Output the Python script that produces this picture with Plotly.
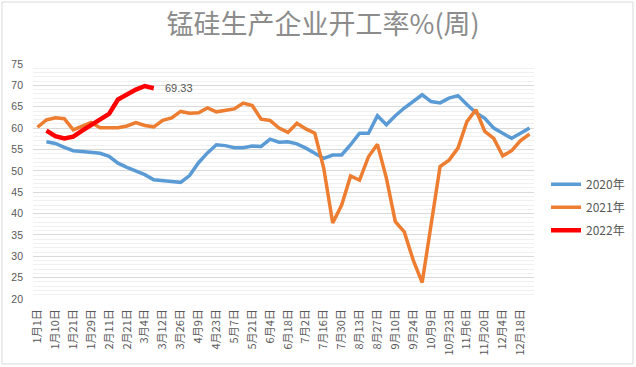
import plotly.graph_objects as go

categories = [
    "1月1日", "1月6日", "1月10日", "1月15日", "1月21日", "1月25日", "1月29日", "2月5日",
    "2月11日", "2月15日", "2月21日", "2月26日", "3月4日", "3月8日", "3月12日", "3月19日",
    "3月26日", "4月2日", "4月9日", "4月16日", "4月23日", "4月30日", "5月7日", "5月14日",
    "5月21日", "5月28日", "6月4日", "6月11日", "6月18日", "6月25日", "7月2日", "7月9日",
    "7月16日", "7月23日", "7月30日", "8月6日", "8月13日", "8月20日", "8月27日", "9月3日",
    "9月10日", "9月17日", "9月24日", "10月1日", "10月9日", "10月16日", "10月23日", "10月30日",
    "11月6日", "11月13日", "11月20日", "11月27日", "12月4日", "12月11日", "12月18日", "12月25日",
]
tick_labels = categories[::2]

rate_2020 = [
    None, 56.8, 56.4, 55.5, 54.7, 54.5, 54.3, 54.1, 53.4, 51.8, 50.8, 49.9, 49.1, 47.9,
    47.6, 47.5, 47.3, 48.9, 51.9, 54.2, 56.1, 55.9, 55.4, 55.4, 55.8, 55.7, 57.4, 56.7,
    56.8, 56.3, 55.3, 54.1, 52.9, 53.7, 53.7, 56.1, 58.8, 58.8, 62.9, 60.8, 62.9, 64.7,
    66.2, 67.8, 66.2, 65.9, 67.0, 67.6, 65.5, 63.6, 62.3, 60.0, 58.8, 57.6, 58.8, 60.0,
]
rate_2021 = [
    60.2, 61.9, 62.4, 62.2, 59.6, 60.4, 61.3, 60.1, 60.1, 60.1, 60.5, 61.3, 60.6, 60.3,
    61.8, 62.4, 63.9, 63.5, 63.6, 64.7, 63.8, 64.1, 64.5, 65.85, 65.3, 62.1, 61.8, 60.0,
    59.0, 61.15, 59.8, 58.8, 50.6, 37.8, 42.0, 48.8, 47.8, 53.3, 56.2, 48.3, 38.1, 35.7,
    29.1, 23.85, 37.3, 51.0, 52.5, 55.3, 61.5, 64.3, 59.2, 57.6, 53.5, 54.7, 57.1, 58.6,
]
rate_2022 = [
    None, 59.4, 58.1, 57.6, 58.0, 59.4, 60.6, 62.0, 63.3, 66.7, 67.9, 69.0, 69.85, 69.33,
] + [None] * 42

series_names = ["2020年", "2021年", "2022年"]
series_colors = ["#5B9BD5", "#ED7D31", "#FF0000"]
series_widths = [3.5, 3.5, 4.5]
title_text = "锰硅生产企业开工率%(周)"

fig = go.Figure()
for name, vals, color, w in zip(series_names, [rate_2020, rate_2021, rate_2022],
                                series_colors, series_widths):
    fig.add_trace(go.Scatter(
        x=categories, y=vals, mode="lines", name=name, legendgroup=name,
        line=dict(color=color, width=w), connectgaps=False, hoverinfo="x+y",
    ))

last_idx = max(i for i, v in enumerate(rate_2022) if v is not None)
fig.add_annotation(
    x=categories[last_idx], y=rate_2022[last_idx], text=f"{rate_2022[last_idx]:.2f}",
    showarrow=False, xanchor="left", yanchor="middle", xshift=9,
    font=dict(size=11, color="#595959", family="Liberation Sans"),
)

# chart area border
fig.add_shape(type="rect", xref="paper", yref="paper",
              x0=-0.0619, x1=1.1976, y0=-0.2766, y1=1.2638,
              line=dict(color="#d9d9d9", width=1), fillcolor="rgba(0,0,0,0)", layer="below")

fig.update_layout(
    width=636, height=367,
    margin=dict(l=33, r=102, t=64, b=68, autoexpand=False),
    paper_bgcolor="white", plot_bgcolor="white",
    title=dict(text=title_text, x=0.508, xanchor="center", y=0.932, yanchor="middle",
               font=dict(size=27, color="#8c8c8c", family="Noto Sans CJK SC")),
    showlegend=True,
    legend=dict(x=1.024, xanchor="left", y=0.55, yanchor="top",
                font=dict(size=12, color="#595959", family="Noto Sans CJK SC"),
                tracegroupgap=4, bgcolor="rgba(0,0,0,0)"),
    xaxis=dict(type="category", categoryorder="array", categoryarray=categories,
               range=[-0.5, len(categories) - 0.5], automargin=False,
               tickmode="array", tickvals=tick_labels, ticktext=tick_labels,
               tickangle=-90, showgrid=False, zeroline=False, showline=False,
               ticks="", ticklabelstandoff=7,
               tickfont=dict(size=11, color="#595959", family="Noto Sans CJK SC")),
    yaxis=dict(range=[20, 75], dtick=5, tick0=20, showgrid=True, gridcolor="#d9d9d9",
               gridwidth=1, zeroline=False, showline=False, ticks="", ticklabelstandoff=9,
               automargin=False,
               tickfont=dict(size=10.5, color="#595959", family="Liberation Sans"),
               minor=dict(dtick=1, showgrid=True, gridcolor="#f0f0f0", gridwidth=1)),
)

fig.write_html("out.html", config={"displayModeBar": False},
               post_script="document.body.style.margin='0';document.body.style.overflow='hidden';")
